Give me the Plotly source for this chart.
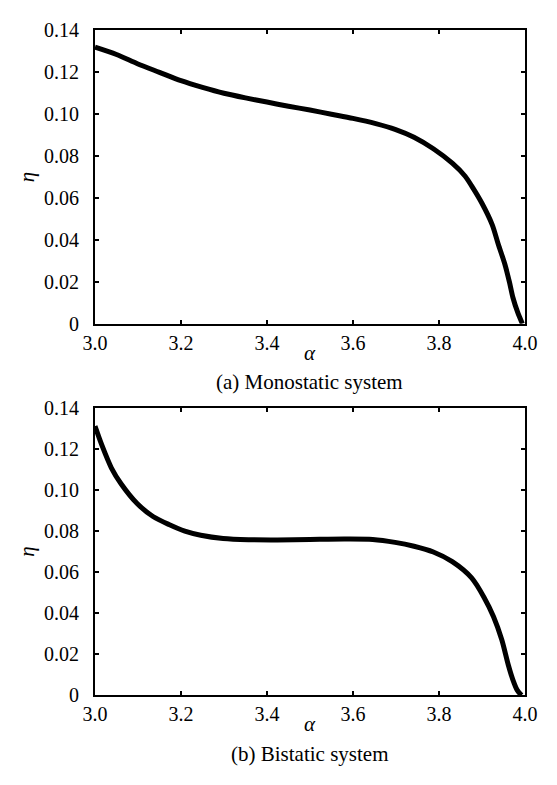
import plotly.graph_objects as go

W, H = 557, 785

# Data
alpha_a = [3.0, 3.05, 3.1, 3.15, 3.2, 3.25, 3.3, 3.35, 3.4, 3.45, 3.5, 3.55, 3.6, 3.653,
           3.698, 3.742, 3.787, 3.831, 3.861, 3.876, 3.9, 3.924, 3.938, 3.953, 3.964, 3.972,
           3.983, 3.994]
eta_a = [0.132, 0.1285, 0.124, 0.120, 0.116, 0.1128, 0.110, 0.1078, 0.1058, 0.1038, 0.1020,
         0.1000, 0.0980, 0.0955, 0.0928, 0.0890, 0.0835, 0.0766, 0.0704, 0.0658, 0.0575,
         0.0472, 0.0379, 0.0286, 0.0198, 0.0125, 0.0055, 0.0]

alpha_b = [3.0, 3.016, 3.038, 3.061, 3.098, 3.135, 3.172, 3.209, 3.246, 3.298, 3.357, 3.424,
           3.5, 3.58, 3.646, 3.698, 3.742, 3.787, 3.831, 3.876, 3.905, 3.927, 3.946, 3.961,
           3.972, 3.982, 3.992]
eta_b = [0.131, 0.1217, 0.1107, 0.1028, 0.0933, 0.0870, 0.0831, 0.0799, 0.0779, 0.0763,
         0.0757, 0.0756, 0.0758, 0.0760, 0.0758, 0.0744, 0.0725, 0.0697, 0.0650, 0.0571,
         0.0476, 0.0382, 0.0271, 0.0150, 0.0075, 0.0025, 0.0]

x_ticks = [3.0, 3.2, 3.4, 3.6, 3.8, 4.0]
x_labels = ["3.0", "3.2", "3.4", "3.6", "3.8", "4.0"]
y_ticks = [0, 0.02, 0.04, 0.06, 0.08, 0.10, 0.12, 0.14]
y_labels = ["0", "0.02", "0.04", "0.06", "0.08", "0.10", "0.12", "0.14"]

captions = ["(a) Monostatic system", "(b) Bistatic system"]

FONT = "Liberation Serif"
TICKFONT = dict(family=FONT, size=20, color="black")

# pixel geometry
left, right = 86, 537
panels = [(20, 321.7), (408, 704)]

fig = go.Figure()
fig.add_trace(go.Scatter(x=alpha_a, y=eta_a, mode="lines",
                         line=dict(color="black", width=5, shape="spline", smoothing=0.8),
                         xaxis="x", yaxis="y", showlegend=False))
fig.add_trace(go.Scatter(x=alpha_b, y=eta_b, mode="lines",
                         line=dict(color="black", width=5, shape="spline", smoothing=0.8),
                         xaxis="x2", yaxis="y2", showlegend=False))

def px2paper_y(py):
    return 1 - py / H

axis_common = dict(showline=True, linecolor="black", linewidth=2, mirror="ticks",
                   ticks="inside", ticklen=4, tickcolor="black", tickwidth=1.5,
                   showgrid=False, zeroline=False)

layout = dict(width=W, height=H, margin=dict(l=0, r=0, t=0, b=0),
              plot_bgcolor="white", paper_bgcolor="white", showlegend=False,
              font=dict(family=FONT, color="black"))

for i, (top, bot) in enumerate(panels):
    sfx = "" if i == 0 else str(i + 1)
    layout["xaxis" + sfx] = dict(domain=[left / W, right / W], range=[3.0, 4.0],
                                 tickvals=x_ticks, ticktext=x_labels,
                                 anchor="y" + sfx, **axis_common)
    layout["yaxis" + sfx] = dict(domain=[px2paper_y(bot), px2paper_y(top)], range=[0, 0.14],
                                 tickvals=y_ticks, ticktext=y_labels, ticklabelstandoff=10,
                                 anchor="x" + sfx, **axis_common)

anns = []
for i, (top, bot) in enumerate(panels):
    anns.append(dict(x=(left + right) / 2 / W, y=px2paper_y(bot + 30), xref="paper", yref="paper",
                     text="<i>α</i>", showarrow=False, font=dict(family=FONT, size=21, color="black"),
                     xanchor="center", yanchor="middle"))
    anns.append(dict(x=(left + right) / 2 / W, y=px2paper_y(bot + 60), xref="paper", yref="paper",
                     text=captions[i], showarrow=False, font=dict(family=FONT, size=21, color="black"),
                     xanchor="center", yanchor="middle"))
    anns.append(dict(x=15 / W, y=px2paper_y((top + bot) / 2), xref="paper", yref="paper",
                     text="<i>η</i>", showarrow=False, textangle=-90,
                     font=dict(family=FONT, size=21, color="black"),
                     xanchor="center", yanchor="middle"))
layout["annotations"] = anns

fig.update_layout(**layout)
fig.update_xaxes(tickfont=TICKFONT)
fig.update_yaxes(tickfont=TICKFONT)
fig.write_html("out.html")
